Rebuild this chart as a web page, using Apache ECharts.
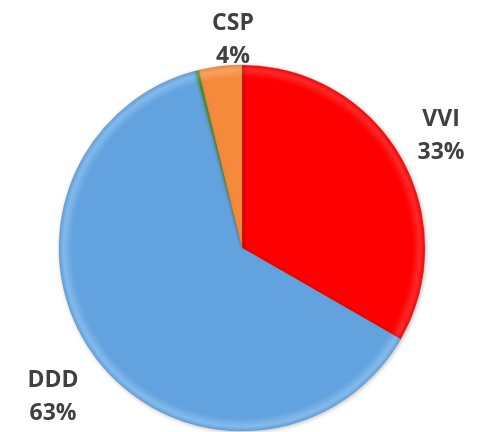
<!DOCTYPE html>
<html>
<head>
<meta charset="utf-8">
<script src="https://cdn.jsdelivr.net/npm/echarts@6/dist/echarts.min.js"></script>
<style>
html,body{margin:0;padding:0;background:#fff;}
#chart{width:490px;height:432px;}
</style>
</head>
<body>
<div id="chart"></div>
<script>
// Data
const categories = ['VVI', 'DDD', 'AAI', 'CSP'];
const values = [33.3, 62.6, 0.3, 3.8];
const colors = ['#FF0000', '#62A3DF', '#4E9A2A', '#F58B3A'];
const showLabel = [true, true, false, true];

// Style / layout settings
const CX = 242, CY = 248, R = 183;
const labelDist = [230, 238, 0, 210];
const labelNudgeX = [0, 0, 0, 16];
const labelNudgeY = [3, 4, 0, 0];

const total = values.reduce((a, b) => a + b, 0);
function midAngle(i) {
  let s = 0;
  for (let k = 0; k < i; k++) s += values[k];
  return ((s + values[i] / 2) / total) * 2 * Math.PI;
}

function shade(base, light) {
  return {
    type: 'radial', x: CX, y: CY, r: R, global: true,
    colorStops: [
      { offset: 0, color: base },
      { offset: 0.93, color: base },
      { offset: 0.975, color: light },
      { offset: 1, color: base }
    ]
  };
}
const lights = ['#FF2A2A', '#84BAEB', '#6BB548', '#F9A260'];

const chart = echarts.init(document.getElementById('chart'), null, { renderer: 'canvas' });
chart.setOption({
  animation: false,
  backgroundColor: '#ffffff',
  series: [{
    type: 'pie',
    center: [CX, CY],
    radius: R,
    startAngle: 90,
    clockwise: true,
    percentPrecision: 0,
    avoidLabelOverlap: false,
    labelLine: { show: false },
    label: {
      show: true,
      position: 'outside',
      formatter: '{b}\n{d}%',
      fontFamily: 'Open Sans',
      fontWeight: 'bold',
      fontSize: 23,
      lineHeight: 33,
      color: '#404040',
      align: 'center'
    },
    labelLayout: function (p) {
      const i = p.dataIndex;
      const a = midAngle(i);
      return {
        x: CX + labelDist[i] * Math.sin(a) + labelNudgeX[i],
        y: CY - labelDist[i] * Math.cos(a) + labelNudgeY[i],
        align: 'center',
        verticalAlign: 'middle'
      };
    },
    itemStyle: {
      borderColor: 'rgba(120,120,120,0.5)',
      borderWidth: 0.6,
      shadowColor: 'rgba(0,0,0,0.25)',
      shadowBlur: 4,
      shadowOffsetX: 1,
      shadowOffsetY: 1
    },
    data: categories.map((c, i) => ({
      name: c,
      value: values[i],
      itemStyle: { color: shade(colors[i], lights[i]) },
      label: { show: showLabel[i] }
    }))
  }]
});
</script>
</body>
</html>
